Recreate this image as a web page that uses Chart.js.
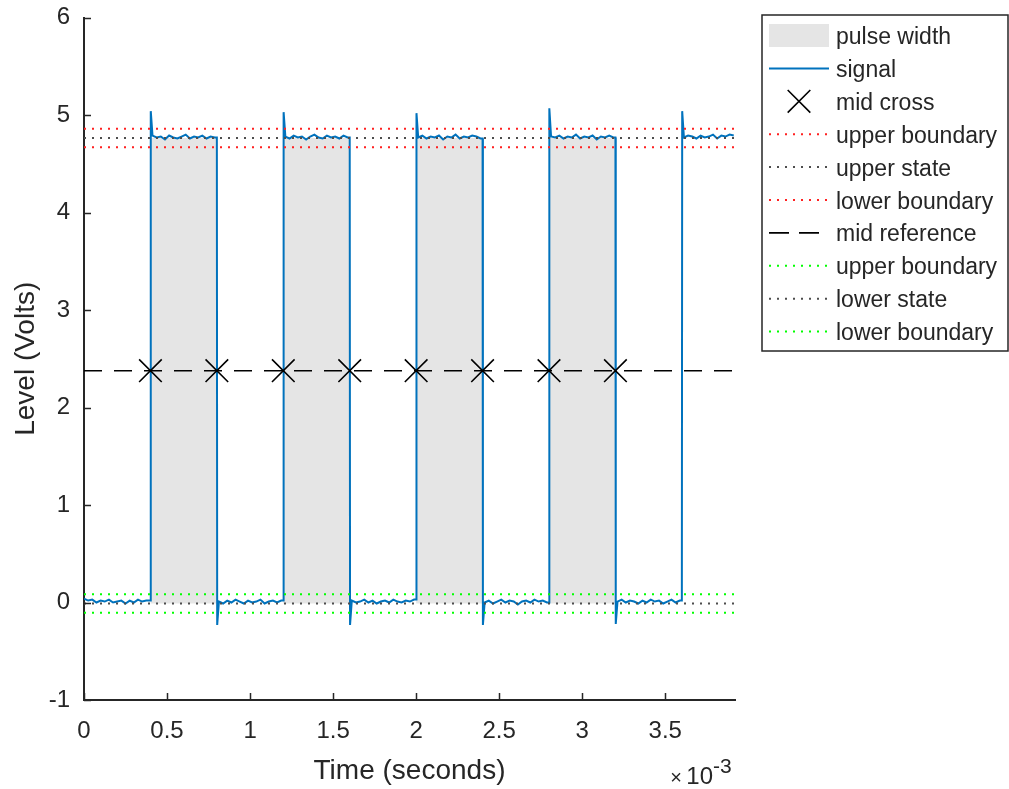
<!DOCTYPE html>
<html>
<head>
<meta charset="utf-8">
<title>Pulse width</title>
<script src="https://cdn.jsdelivr.net/npm/chart.js@4.4.1/dist/chart.umd.min.js"></script>
<style>
  html, body { margin: 0; padding: 0; background: #fff; }
  #wrap { position: relative; width: 1009px; height: 789px; }
</style>
</head>
<body>
<div id="wrap"><canvas id="pulseChart"></canvas></div>
<script>
// time values are in units of 1e-3 s (the axis carries the x10^-3 factor)
const timeEnd = 3.92;
const sampleStep = 0.025;
const xTicks = [0, 0.5, 1, 1.5, 2, 2.5, 3, 3.5];
const yTicks = [-1, 0, 1, 2, 3, 4, 5, 6];

// signal: one block of readings per flat stretch, starting at each transition
const segmentStarts = [0, 0.4, 0.8, 1.2, 1.6, 2.0, 2.4, 2.8, 3.2, 3.6];
const segmentLevels = [
  [0.04, 0.02, 0.03, 0.00, 0.02, 0.01, 0.03, 0.00, 0.01, 0.02, -0.01, 0.02, 0.00, 0.03, 0.01, 0.02],
  [4.79, 4.77, 4.78, 4.75, 4.79, 4.77, 4.76, 4.78, 4.80, 4.76, 4.78, 4.77, 4.79, 4.76, 4.78, 4.77],
  [0.01, -0.01, 0.02, 0.00, 0.03, 0.01, -0.01, 0.02, 0.00, 0.01, 0.03, -0.01, 0.01, 0.02, 0.00, 0.02],
  [4.78, 4.76, 4.79, 4.77, 4.78, 4.75, 4.78, 4.80, 4.77, 4.76, 4.79, 4.77, 4.78, 4.76, 4.79, 4.77],
  [0.02, 0.00, 0.01, 0.03, 0.00, 0.02, -0.01, 0.01, 0.02, 0.00, 0.03, 0.01, 0.00, 0.02, 0.01, 0.03],
  [4.77, 4.79, 4.76, 4.78, 4.77, 4.79, 4.75, 4.78, 4.77, 4.80, 4.76, 4.78, 4.77, 4.79, 4.78, 4.76],
  [0.00, 0.02, -0.01, 0.01, 0.03, 0.00, 0.02, 0.01, -0.02, 0.01, 0.02, 0.00, 0.03, 0.01, 0.02, 0.00],
  [4.78, 4.77, 4.79, 4.76, 4.78, 4.77, 4.80, 4.76, 4.78, 4.77, 4.79, 4.75, 4.78, 4.77, 4.79, 4.77],
  [0.01, 0.03, 0.00, 0.02, 0.01, -0.01, 0.02, 0.00, 0.03, 0.01, 0.02, -0.01, 0.01, 0.03, 0.00, 0.02],
  [4.77, 4.79, 4.78, 4.76, 4.79, 4.77, 4.78, 4.80, 4.76, 4.79, 4.78, 4.80, 4.79]
];
// overshoot / undershoot right after each transition
const edgePeaks = [5.04, -0.23, 5.03, -0.23, 5.02, -0.23, 5.07, -0.22, 5.04];

const pulseStarts = [0.4, 1.2, 2.0, 2.8];
const pulseEnds = [0.8, 1.6, 2.4, 3.2];
const crossTimes = [0.4, 0.8, 1.2, 1.6, 2.0, 2.4, 2.8, 3.2];

const upperState = 4.765;
const lowerState = -0.01;
const midReference = 2.378;
const upperBoundaries = [4.86, 4.67];
const lowerBoundaries = [0.085, -0.105];

const axisColor = '#262626';
const fontFamily = '"Liberation Sans", Arial, Helvetica, sans-serif';

function buildSignal() {
  const pts = [];
  segmentStarts.forEach((start, k) => {
    if (k > 0) {
      const prev = segmentLevels[k - 1];
      pts.push({ x: start, y: prev[prev.length - 1] });
      pts.push({ x: start + 0.002, y: edgePeaks[k - 1] });
    }
    const t0 = k === 0 ? start : start + 0.0125;
    segmentLevels[k].forEach((v, i) => {
      pts.push({ x: t0 + i * sampleStep, y: v });
    });
  });
  return pts;
}

function buildPulseArea() {
  const pts = [];
  pulseStarts.forEach((s, i) => {
    pts.push({ x: s, y: lowerState });
    pts.push({ x: s, y: upperState });
    pts.push({ x: pulseEnds[i], y: upperState });
    pts.push({ x: pulseEnds[i], y: lowerState });
  });
  return pts;
}

function levelLine(label, v, color, order) {
  return {
    label: label,
    data: [{ x: 0, y: v }, { x: timeEnd, y: v }],
    borderColor: color,
    borderWidth: 2,
    borderDash: [2, 6],
    pointRadius: 0,
    fill: false,
    order: order
  };
}

// datasets are listed in legend order; "order" sets the drawing order
const datasets = [
  {
    label: 'pulse width',
    data: buildPulseArea(),
    borderWidth: 0,
    borderColor: 'rgba(0,0,0,0)',
    backgroundColor: '#e5e5e5',
    fill: { value: lowerState },
    pointRadius: 0,
    order: 20
  },
  {
    label: 'signal',
    data: buildSignal(),
    borderColor: '#0072bd',
    borderWidth: 2,
    pointRadius: 0,
    fill: false,
    order: 10
  },
  {
    label: 'mid cross',
    data: crossTimes.map(t => ({ x: t, y: midReference })),
    showLine: false,
    pointStyle: 'crossRot',
    pointRadius: 16,
    pointBorderWidth: 1.6,
    borderColor: '#000',
    pointBorderColor: '#000',
    order: 2
  },
  levelLine('upper boundary', upperBoundaries[0], '#ff2020', 5),
  levelLine('upper state', upperState, '#4d4d4d', 5),
  levelLine('lower boundary', upperBoundaries[1], '#ff2020', 5),
  {
    label: 'mid reference',
    data: [{ x: 0, y: midReference }, { x: timeEnd, y: midReference }],
    borderColor: '#000',
    borderWidth: 1.6,
    borderDash: [18, 12],
    pointRadius: 0,
    fill: false,
    order: 1
  },
  levelLine('upper boundary', lowerBoundaries[0], '#00ff00', 5),
  levelLine('lower state', lowerState, '#4d4d4d', 5),
  levelLine('lower boundary', lowerBoundaries[1], '#00ff00', 5)
];

// tick marks inside the axes, plus the x10^-3 exponent label
const innerTicks = {
  id: 'innerTicks',
  afterDraw(chart) {
    const { ctx, chartArea, scales } = chart;
    ctx.save();
    ctx.strokeStyle = axisColor;
    ctx.lineWidth = 1.5;
    ctx.beginPath();
    scales.x.ticks.forEach(t => {
      const px = Math.round(scales.x.getPixelForValue(t.value)) + 0.5;
      ctx.moveTo(px, chartArea.bottom);
      ctx.lineTo(px, chartArea.bottom - 7);
    });
    scales.y.ticks.forEach(t => {
      const py = Math.round(scales.y.getPixelForValue(t.value)) + 0.5;
      ctx.moveTo(chartArea.left, py);
      ctx.lineTo(chartArea.left + 7, py);
    });
    ctx.stroke();

    const r = chartArea.right;
    ctx.fillStyle = axisColor;
    ctx.textBaseline = 'alphabetic';
    ctx.textAlign = 'right';
    ctx.font = '24px ' + fontFamily;
    ctx.fillText('10', r - 22, 784);
    ctx.font = '20px ' + fontFamily;
    ctx.fillText('\u00d7', r - 53, 784);
    ctx.textAlign = 'left';
    ctx.font = '21px ' + fontFamily;
    ctx.fillText('-3', r - 22, 773);
    ctx.restore();
  }
};

// boxed legend to the right of the axes
const legendBox = {
  id: 'legendBox',
  afterDraw(chart) {
    const ctx = chart.ctx;
    const box = { left: 762, top: 15, right: 1008, bottom: 351 };
    const firstRow = 35.5, rowStep = 32.9;
    const sx0 = 769, sx1 = 829, textX = 836;
    ctx.save();
    ctx.fillStyle = '#fff';
    ctx.fillRect(box.left, box.top, box.right - box.left, box.bottom - box.top);
    ctx.strokeStyle = axisColor;
    ctx.lineWidth = 1.5;
    ctx.strokeRect(box.left, box.top, box.right - box.left, box.bottom - box.top);

    chart.data.datasets.forEach((ds, i) => {
      const cy = firstRow + i * rowStep;
      if (ds.fill && ds.fill.value !== undefined) {
        ctx.fillStyle = ds.backgroundColor;
        ctx.fillRect(sx0, cy - 11.5, sx1 - sx0, 23);
      } else if (ds.showLine === false) {
        const h = ds.pointRadius * Math.SQRT1_2;
        const cx = (sx0 + sx1) / 2;
        ctx.strokeStyle = ds.pointBorderColor;
        ctx.lineWidth = ds.pointBorderWidth;
        ctx.setLineDash([]);
        ctx.beginPath();
        ctx.moveTo(cx - h, cy - h); ctx.lineTo(cx + h, cy + h);
        ctx.moveTo(cx - h, cy + h); ctx.lineTo(cx + h, cy - h);
        ctx.stroke();
      } else {
        ctx.strokeStyle = ds.borderColor;
        ctx.lineWidth = ds.borderWidth;
        ctx.setLineDash(ds.borderDash ? (ds.borderDash[0] > 10 ? [20, 10] : ds.borderDash) : []);
        ctx.beginPath();
        ctx.moveTo(sx0, cy);
        ctx.lineTo(sx1, cy);
        ctx.stroke();
      }
      ctx.setLineDash([]);
      ctx.fillStyle = axisColor;
      ctx.font = '23px ' + fontFamily;
      ctx.textAlign = 'left';
      ctx.textBaseline = 'alphabetic';
      ctx.fillText(ds.label, textX, cy + 8.5);
    });
    ctx.restore();
  }
};

const tickFont = { family: fontFamily, size: 24 };
const titleFont = { family: fontFamily, size: 28 };

new Chart(document.getElementById('pulseChart'), {
  type: 'line',
  data: { datasets: datasets },
  options: {
    responsive: true,
    maintainAspectRatio: false,
    animation: false,
    layout: { padding: { left: 0, right: 274, top: 17, bottom: 0 } },
    elements: { line: { tension: 0 } },
    plugins: {
      legend: { display: false },
      tooltip: { enabled: false }
    },
    scales: {
      x: {
        type: 'linear',
        min: 0,
        max: timeEnd,
        afterBuildTicks: s => { s.ticks = xTicks.map(v => ({ value: v })); },
        afterFit: s => { s.height = 89; s.paddingLeft = 0; s.paddingRight = 0; },
        grid: { display: false, drawTicks: false },
        border: { display: true, color: axisColor, width: 2 },
        ticks: {
          color: axisColor,
          font: tickFont,
          padding: 17,
          maxRotation: 0,
          autoSkip: false,
          callback: v => String(v)
        },
        title: {
          display: true,
          text: 'Time (seconds)',
          color: axisColor,
          font: titleFont,
          padding: { top: 0, bottom: 1 }
        }
      },
      y: {
        type: 'linear',
        min: -1,
        max: 6,
        afterBuildTicks: s => { s.ticks = yTicks.map(v => ({ value: v })); },
        afterFit: s => { s.width = 84; s.paddingTop = 0; s.paddingBottom = 0; },
        grid: { display: false, drawTicks: false },
        border: { display: true, color: axisColor, width: 2 },
        ticks: {
          color: axisColor,
          font: tickFont,
          padding: 14,
          autoSkip: false,
          callback: v => String(v)
        },
        title: {
          display: true,
          text: 'Level (Volts)',
          color: axisColor,
          font: titleFont,
          padding: { top: 9, bottom: 0 }
        }
      }
    }
  },
  plugins: [innerTicks, legendBox]
});
</script>
</body>
</html>
